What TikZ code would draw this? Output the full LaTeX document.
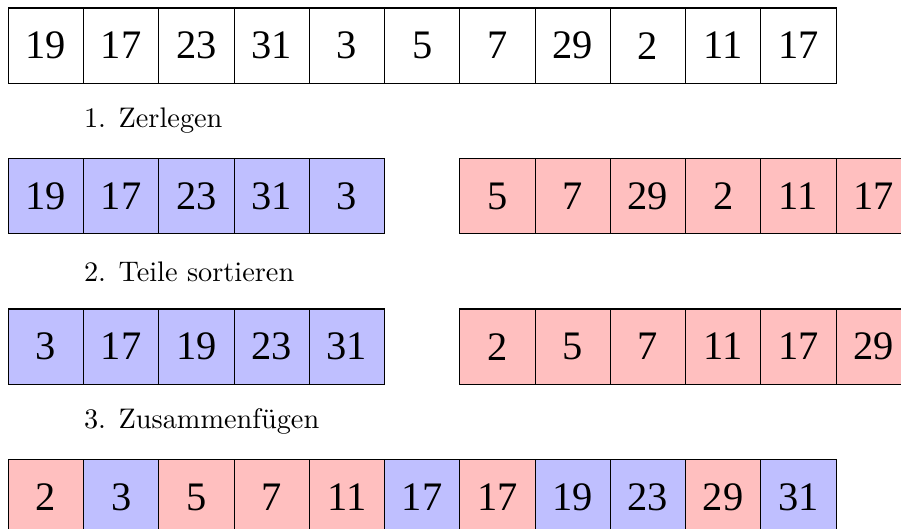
\documentclass[tikz,border=0pt]{standalone}
\usepackage{fontspec}
\usepackage{tikz}
\usetikzlibrary{positioning}
\newfontfamily\zahlfont{Liberation Serif}
\tikzset{
    zelle/.style={rectangle, draw=black, minimum size=1cm, inner sep=0pt, outer sep=0pt, anchor=north west, font=\zahlfont\fontsize{15.3}{18}\selectfont},
    blau/.style={zelle, fill=blue!25},
    rot/.style={zelle, fill=red!25},
    schritt/.style={anchor=west, inner sep=0pt, font=\fontsize{10.7}{13.2}\selectfont},
}
\begin{document}
\begin{tikzpicture}
        \useasboundingbox (-0.11,0.106) rectangle (11.863,-6.911);
        \clip (-0.11,0.106) rectangle (11.863,-6.911);
        % Eingabe
        \foreach \z [count=\i from 0] in {19,17,23,31,3,5,7,29,2,11,17}
            \node[zelle] (ein\i) at (\i,0) {\z};

        \node[schritt] (zerlegen) at (1,-1.5) {1. Zerlegen};

        % Zerlegte Teile
        \foreach \z [count=\i from 0] in {19,17,23,31,3}
            \node[blau] (links\i) at (\i,-2) {\z};
        \foreach \z [count=\i from 6] in {5,7,29,2,11,17}
            \node[rot] (rechts\i) at (\i,-2) {\z};

        \node[schritt] (sortieren) at (1,-3.5) {2. Teile sortieren};

        % Sortierte Teile
        \foreach \z [count=\i from 0] in {3,17,19,23,31}
            \node[blau] (slinks\i) at (\i,-4) {\z};
        \foreach \z [count=\i from 6] in {2,5,7,11,17,29}
            \node[rot] (srechts\i) at (\i,-4) {\z};

        \node[schritt] (fuegen) at (1,-5.5) {3. Zusammenfügen};

        % Ergebnis
        \foreach \z/\s [count=\i from 0] in {2/rot,3/blau,5/rot,7/rot,11/rot,17/blau,17/rot,19/blau,23/blau,29/rot,31/blau}
            \node[\s] (aus\i) at (\i,-6) {\z};
\end{tikzpicture}
\end{document}
